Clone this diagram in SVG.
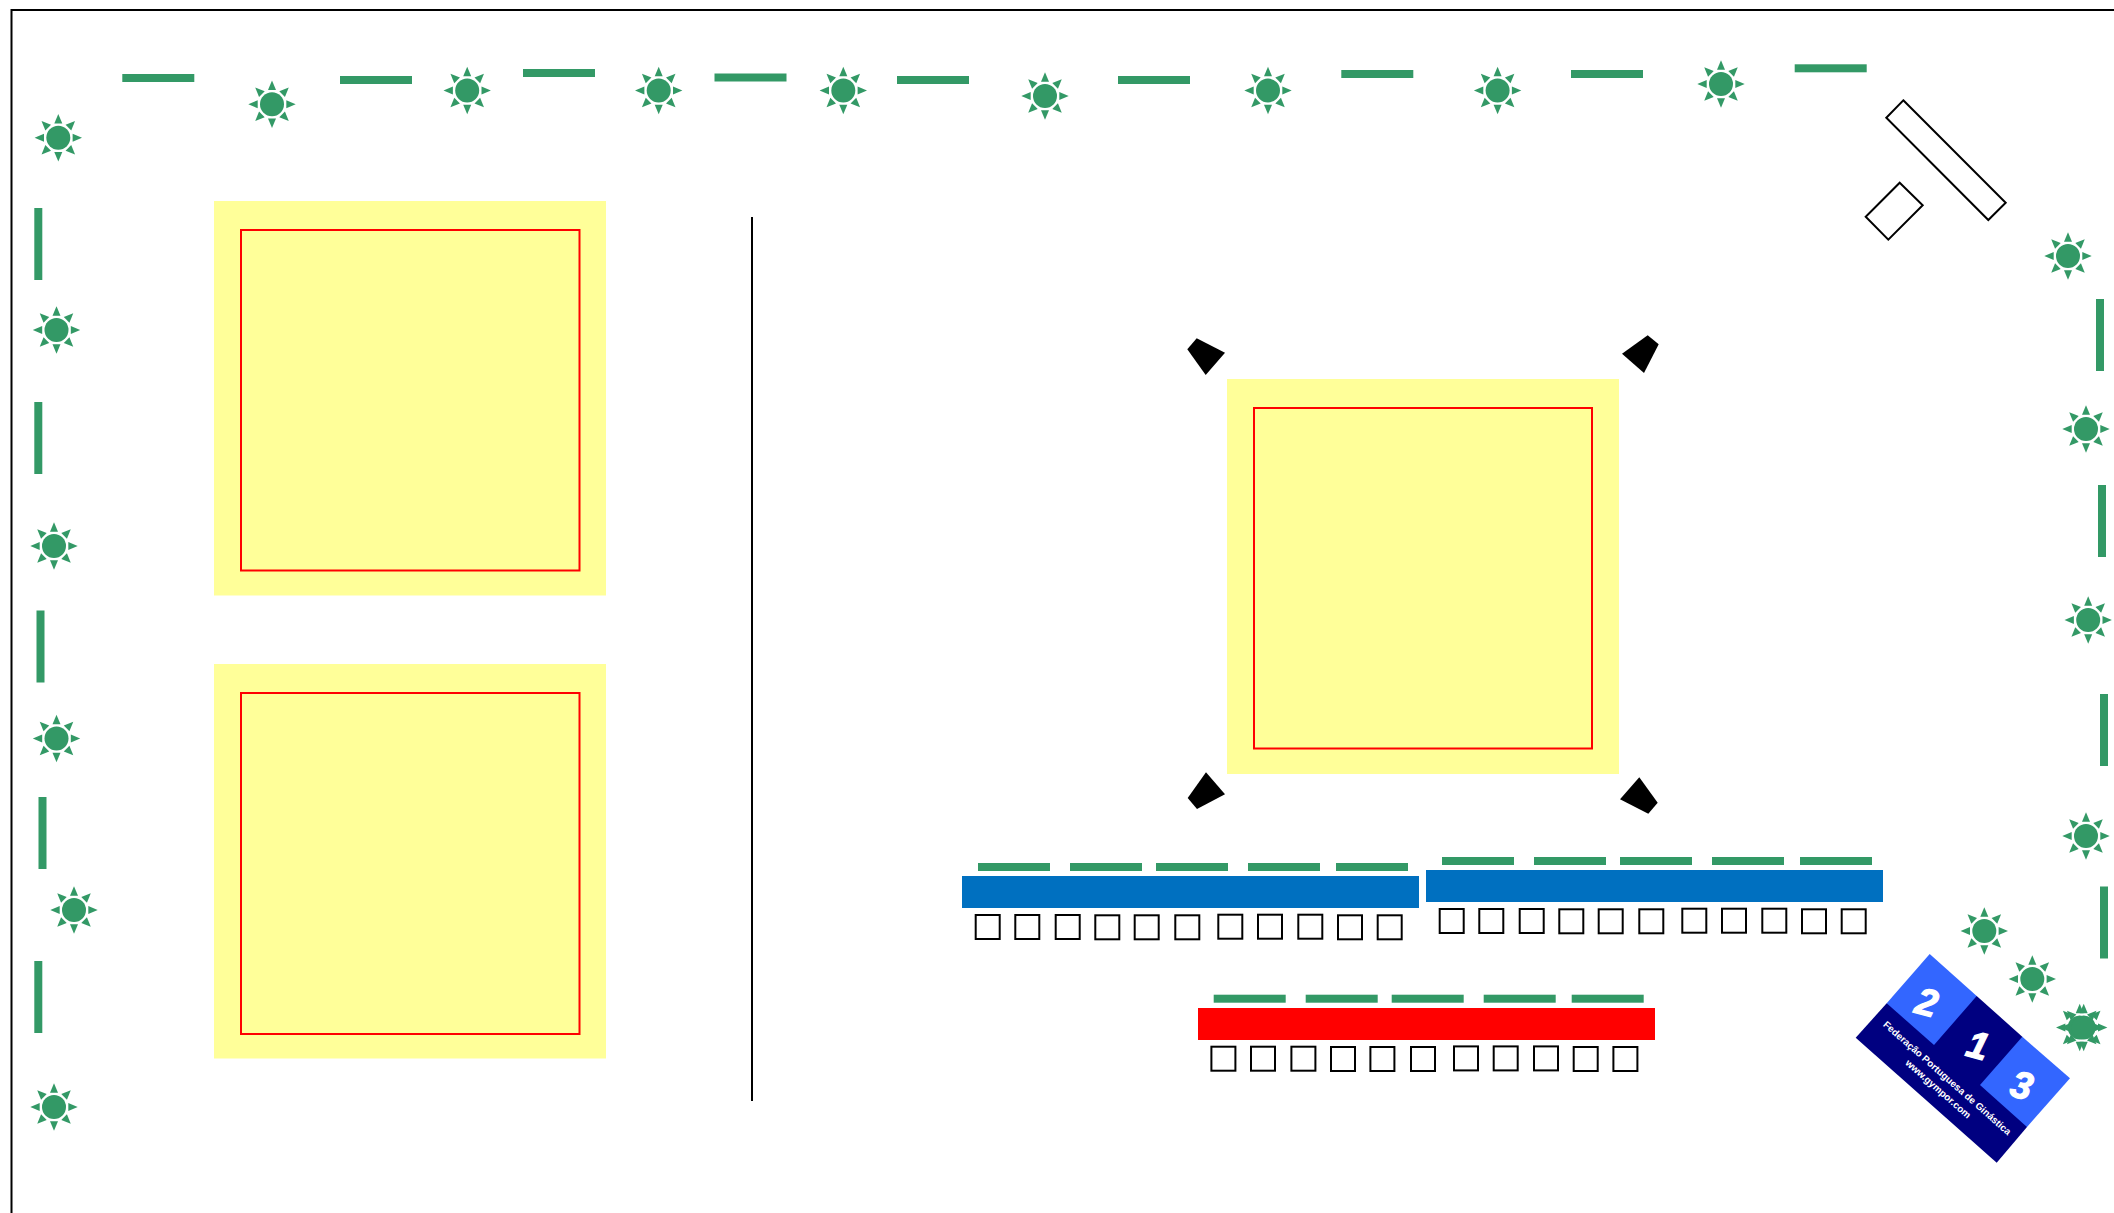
<svg xmlns="http://www.w3.org/2000/svg" xmlns:xlink="http://www.w3.org/1999/xlink" width="2114" height="1213" viewBox="0 0 2114 1213">
<style>
.g{fill:#339966}
.mat{fill:#ffff99}
.line{fill:none;stroke:#ff0000;stroke-width:2}
.box{fill:#fff;stroke:#000;stroke-width:2}
.t{font-family:"Liberation Sans",Arial,sans-serif;font-weight:bold;fill:#fff;text-anchor:middle}
.n{font-size:38px;font-style:italic;stroke:#fff;stroke-width:1.2px}
.s{font-size:9.8px}
</style>
<defs>
<polygon id="ray" points="0,-23.7 4,-14.3 -4,-14.3"/>
<g id="sun" class="g">
<circle r="12"/>
<use href="#ray"/><use href="#ray" transform="rotate(45)"/><use href="#ray" transform="rotate(90)"/><use href="#ray" transform="rotate(135)"/><use href="#ray" transform="rotate(180)"/><use href="#ray" transform="rotate(225)"/><use href="#ray" transform="rotate(270)"/><use href="#ray" transform="rotate(315)"/>
</g>
<rect id="h" class="g" width="72" height="8"/>
<rect id="v" class="g" width="8" height="72"/>
<rect id="sq" class="box" width="24" height="24"/>
<g id="bench">
<use href="#h" x="978" y="863"/><use href="#h" x="1070" y="863"/><use href="#h" x="1156" y="863"/><use href="#h" x="1248" y="863"/><use href="#h" x="1336" y="863"/>
<use href="#sq" x="975.7" y="915"/><use href="#sq" x="1015.3" y="915"/><use href="#sq" x="1055.7" y="915"/><use href="#sq" x="1095.3" y="915.3"/><use href="#sq" x="1134.7" y="915.3"/><use href="#sq" x="1175.3" y="915.3"/><use href="#sq" x="1218.3" y="914.7"/><use href="#sq" x="1258" y="914.7"/><use href="#sq" x="1298.3" y="914.7"/><use href="#sq" x="1338" y="915.3"/><use href="#sq" x="1377.7" y="915.3"/>
</g>
</defs>
<rect width="2114" height="1213" fill="#fff"/>
<path id="border" d="M11.5 1213V10H2114" fill="none" stroke="#000" stroke-width="2"/>

<g id="suns">
<use href="#sun" x="58.3" y="137.7"/><use href="#sun" x="272" y="104.3"/><use href="#sun" x="467.2" y="90.5"/><use href="#sun" x="658.7" y="90.5"/><use href="#sun" x="843.3" y="90.5"/><use href="#sun" x="1045" y="96"/><use href="#sun" x="1268" y="90.5"/><use href="#sun" x="1497.6" y="90.5"/><use href="#sun" x="1721" y="84"/>
<use href="#sun" x="2068" y="256"/><use href="#sun" x="2086" y="429"/><use href="#sun" x="2088.2" y="620"/><use href="#sun" x="2086" y="836"/>
<use href="#sun" x="1984.3" y="931"/><use href="#sun" x="2032.3" y="979"/><use href="#sun" x="2079.7" y="1027.5"/><use href="#sun" x="2083.7" y="1027.5"/>
<use href="#sun" x="56.5" y="330"/><use href="#sun" x="54" y="546"/><use href="#sun" x="56.5" y="738.5"/><use href="#sun" x="74" y="910"/><use href="#sun" x="54" y="1107"/>
</g>
<g id="dashes">
<use href="#h" x="122.3" y="74"/><use href="#h" x="340" y="76"/><use href="#h" x="523" y="69"/><use href="#h" x="714.5" y="73.5"/><use href="#h" x="897" y="76"/><use href="#h" x="1118" y="76"/><use href="#h" x="1341.3" y="70"/><use href="#h" x="1571" y="70"/><use href="#h" x="1794.7" y="64.3"/>
<use href="#v" x="34.3" y="208"/><use href="#v" x="34.3" y="402"/><use href="#v" x="36.5" y="610.5"/><use href="#v" x="38.5" y="797"/><use href="#v" x="34.3" y="961"/>
<use href="#v" x="2096" y="299"/><use href="#v" x="2098" y="485"/><use href="#v" x="2100" y="694"/><use href="#v" x="2100" y="886.5"/>
</g>

<g id="mat-1"><rect class="mat" x="214" y="201" width="392" height="394.5"/><rect class="line" x="241" y="230" width="338.5" height="340.5"/></g>
<g id="mat-2"><rect class="mat" x="214" y="664" width="392" height="394.5"/><rect class="line" x="241" y="693" width="338.5" height="341"/></g>
<g id="mat-3"><rect class="mat" x="1227" y="379" width="392" height="395"/><rect class="line" x="1254" y="408" width="338" height="340.5"/></g>
<path id="divider" d="M752 217V1101" stroke="#000" stroke-width="2" fill="none"/>

<g id="corners" fill="#000">
<polygon points="1196.7,338.3 1225,352.7 1205.7,375 1187.3,349.3"/>
<polygon points="1647.7,335.3 1658.7,344.3 1644,373 1622,353.7"/>
<polygon points="1206,772.3 1225,794.3 1197,809 1187.7,798"/>
<polygon points="1639.3,777.3 1657.7,802.7 1648.3,813.7 1620,799.3"/>
</g>

<g id="bench-blue-1"><rect x="962" y="876" width="457" height="32" fill="#0070c0"/><use href="#bench"/></g>
<g id="bench-blue-2"><rect x="1426" y="870" width="457" height="32" fill="#0070c0"/><use href="#bench" x="464" y="-6"/></g>
<g id="bench-red"><rect x="1198" y="1008" width="457" height="32" fill="#ff0000"/><use href="#bench" x="235.7" y="131.7"/></g>

<g id="table" class="box">
<polygon points="1903.3,100.3 2005.7,202.7 1988.3,220 1886.3,117.7"/>
<polygon points="1899.7,182.7 1922.7,205.3 1888.3,239.7 1865.7,216.7"/>
</g>

<g id="podium">
<polygon points="1976.7,996 2022.3,1036.7 2027,1127 1996.7,1162.7 1855.7,1037.7 1886.7,1003.3" fill="#000080"/>
<polygon points="1929.7,954 1976.7,996 1934,1045 1886.7,1003.3" fill="#3366ff"/>
<polygon points="2022.3,1036.7 2070,1078.3 2027,1127 1980,1085" fill="#3366ff"/>
<text class="t n" transform="translate(1923.5,1015) rotate(15)">2</text>
<text class="t n" transform="translate(1974.5,1058) rotate(15)">1</text>
<text class="t n" transform="translate(2018.5,1098) rotate(15)">3</text>
<text class="t s" transform="translate(1945,1080.5) rotate(41.4)">Federação Portuguesa de Ginástica</text>
<text class="t s" transform="translate(1936,1091.5) rotate(41.4)">www.gympor.com</text>
</g>
</svg>
